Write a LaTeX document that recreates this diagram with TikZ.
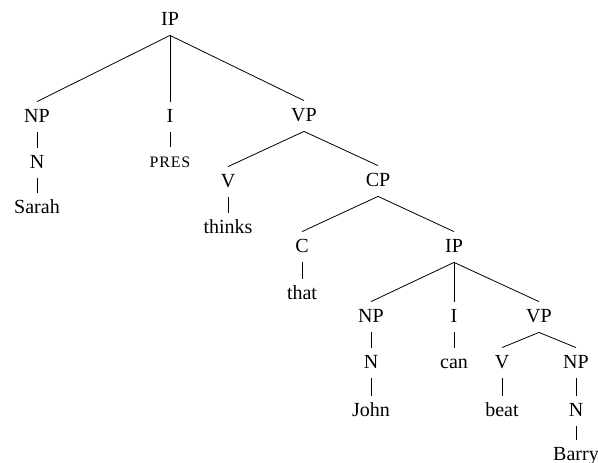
\documentclass[tikz,border=0pt]{standalone}
\usepackage{fontspec}
\setmainfont{Liberation Serif}
\usepackage{tikz}

\begin{document}
\begin{tikzpicture}[x=1pt,y=-1pt,line width=0.8pt,
  every node/.style={anchor=base,text height=13pt,text depth=3pt,inner ysep=7pt,inner xsep=2pt,font=\fontsize{20}{24}\selectfont}]
 
 \useasboundingbox (0,0) rectangle (598,463);
 
 \node (ip) at (170,25) {IP};
 
 \node (np) at (37,122) {NP};
 
 \node (i) at (170,122) {I};
 
 \node (vp) at (304,121) {VP};
 
 \node (n) at (37,168) {N};
 
 \node (pres) at (170,167) {\fontsize{16}{18}\selectfont\addfontfeature{LetterSpace=5}PRES};
 
 \node (sarah) at (37,213) {Sarah};
 
 \node (v) at (228,187) {V};
 
 \node (cp) at (378,186) {CP};
 
 \node (thinks) at (228,233) {thinks};
 
 \node (c) at (302,252) {C};
 
 \node (ip2) at (454,252) {IP};
 
 \node (that) at (302,299) {that};
 
 \node (np2) at (371,322) {NP};
 
 \node (i2) at (454,322) {I};
 
 \node (vp2) at (539,322) {VP};
 
 \node (n2) at (371,368) {N};
 
 \node (can) at (454,368) {can};
 
 \node (v2) at (502,368) {V};
 
 \node (np3) at (576,368) {NP};
 
 \node (john) at (371,416) {John};
 
 \node (beat) at (502,416) {beat};
 
 \node (n3) at (576,416) {N};
 
 \node (barry) at (576,460) {Barry};
 
 \draw (ip.south) -- (np.north);
 \draw (ip.south) -- (i.north);
 \draw (ip.south) -- (vp.north);
 \draw (np.south) -- (n.north);
 \draw (n.south) -- (sarah.north);
 \draw (i.south) -- (pres.north);
 \draw (vp.south) -- (v.north);
 \draw (vp.south) -- (cp.north);
 \draw (v.south) -- (thinks.north);
 \draw (cp.south) -- (c.north);
 \draw (cp.south) -- (ip2.north);
 \draw (c.south) -- (that.north);
 \draw (ip2.south) -- (np2.north);
 \draw (ip2.south) -- (i2.north);
 \draw (ip2.south) -- (vp2.north);
 \draw (np2.south) -- (n2.north);
 \draw (n2.south) -- (john.north);
 \draw (i2.south) -- (can.north);
 \draw (vp2.south) -- (v2.north);
 \draw (vp2.south) -- (np3.north);
 \draw (v2.south) -- (beat.north);
 \draw (np3.south) -- (n3.north);
 \draw (n3.south) -- (barry.north);
 
\end{tikzpicture}
\end{document}
